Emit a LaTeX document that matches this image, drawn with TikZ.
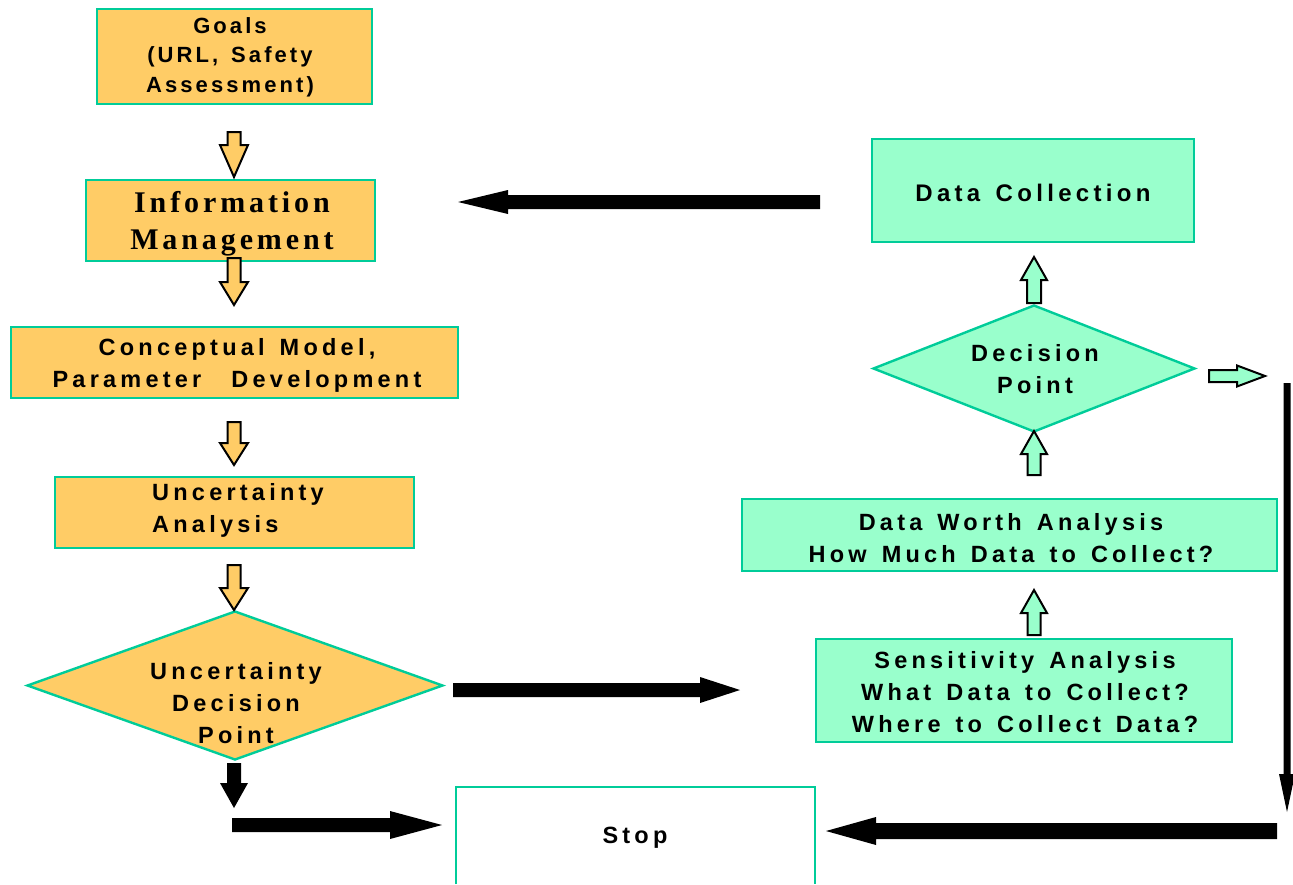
\documentclass[tikz,border=0pt]{standalone}
\usepackage{fontspec}
\usetikzlibrary{calc,shapes.geometric}
\newfontfamily\lab{Liberation Sans}[LetterSpace=18,WordSpace=1.4]
\newfontfamily\labg{Liberation Sans}[LetterSpace=14,WordSpace=1.4]
\newfontfamily\labserif{Liberation Serif}[LetterSpace=13]
\definecolor{edgec}{HTML}{00CC99}
\definecolor{orangef}{HTML}{FFCC66}
\definecolor{greenf}{HTML}{99FFCC}
% #1 start, #2 tip, #3 half shaft, #4 half head, #5 head length, #6 style
\newcommand\blockarrow[6]{%
  \path ($(#2)!#5!(#1)$) coordinate (ba-b);
  \draw[#6] ($(#1)!#3!90:(#2)$) -- ($(ba-b)!#3!-90:(#1)$) -- ($(ba-b)!#4!-90:(#1)$)
    -- (#2) -- ($(ba-b)!#4!90:(#1)$) -- ($(ba-b)!#3!90:(#1)$) -- ($(#1)!#3!-90:(#2)$) -- cycle;}
\tikzset{
  box/.style={draw=edgec, line width=2.4pt, rectangle, inner sep=0pt, align=center,
    font=\lab\bfseries\fontsize{23.5}{31.5}\selectfont},
  obox/.style={box, fill=orangef},
  gbox/.style={box, fill=greenf},
  txt/.style={inner sep=0pt, align=center, font=\lab\bfseries\fontsize{23.5}{32}\selectfont},
  oarrow/.style={fill=orangef, draw=black, line width=2pt, line join=miter},
  garrow/.style={fill=greenf, draw=black, line width=2pt, line join=miter},
  barrow/.style={fill=black, draw=none}
}
\begin{document}
\begin{tikzpicture}[x=1pt,y=-1pt]
\useasboundingbox (0,0) rectangle (1293,884);
% left column
\node[obox, minimum width=275pt, minimum height=95pt] (goals) at (234.5,56.5) {};
\node[txt, font=\labg\bfseries\fontsize{22}{29.5}\selectfont] (goalstext) at (230,57) {Goals\\(URL, Safety\\Assessment)};
\node[obox, minimum width=289pt, minimum height=81pt] (info) at (230.5,220.5) {};
\node[txt, font=\labserif\bfseries\fontsize{30}{37}\selectfont] (infotext) at (232,224) {Information\\Management};
\node[obox, minimum width=447pt, minimum height=71pt] (concept) at (234.5,362.5) {};
\node[txt] (concepttext) at (237,365) {Conceptual Model,\\Parameter\ \ Development};
\node[obox, minimum width=359pt, minimum height=71pt] (unc) at (234.5,512.5) {};
\node[txt, align=left] (unctext) at (238,510) {Uncertainty\\Analysis};
\node[draw=edgec, line width=2.4pt, fill=orangef, diamond, inner sep=0pt, minimum width=416pt, minimum height=149pt] (udiam) at (235,685.5) {};
\node[txt] (udtext) at (236,703) {Uncertainty\\Decision\\Point};
% stop
\node[fill=white, inner sep=0pt, minimum width=359pt, minimum height=97pt] (stop) at (635.5,835.5) {};
\draw[edgec, line width=2.4pt] (stop.south west) -- (stop.north west) -- (stop.north east) -- (stop.south east);
\node[txt] (stoptext) at (635,838) {Stop};
% right column
\node[gbox, minimum width=322pt, minimum height=103pt] (dc) at (1033,190.5) {};
\node[txt, font=\lab\bfseries\fontsize{24}{31}\selectfont] (dctext) at (1033,193) {Data Collection};
\node[draw=edgec, line width=2.4pt, fill=greenf, diamond, inner sep=0pt, minimum width=322pt, minimum height=127pt] (ddiam) at (1034,368.5) {};
\node[txt] (ddtext) at (1035,369) {Decision\\Point};
\node[gbox, minimum width=535pt, minimum height=72pt] (dw) at (1009.5,535) {};
\node[txt] (dwtext) at (1011,538) {Data Worth Analysis\\How Much Data to Collect?};
\node[gbox, minimum width=416pt, minimum height=103pt] (sens) at (1024,690.5) {};
\node[txt] (senstext) at (1025,692) {Sensitivity Analysis\\What Data to Collect?\\Where to Collect Data?};
% small orange arrows
\coordinate (o1s) at (234,132); \coordinate (o1t) at (234,177);
\coordinate (o2s) at (234,258); \coordinate (o2t) at (234,305);
\coordinate (o3s) at (234,422); \coordinate (o3t) at (234,465);
\coordinate (o4s) at (234,565); \coordinate (o4t) at (234,610);
\blockarrow{o1s}{o1t}{6.5pt}{14pt}{32pt}{oarrow}
\blockarrow{o2s}{o2t}{6.5pt}{14pt}{23pt}{oarrow}
\blockarrow{o3s}{o3t}{6.5pt}{14pt}{22pt}{oarrow}
\blockarrow{o4s}{o4t}{6.5pt}{14pt}{22pt}{oarrow}
% small green arrows
\coordinate (g1s) at (1034,635); \coordinate (g1t) at (1034,590);
\coordinate (g2s) at (1034,475); \coordinate (g2t) at (1034,431);
\coordinate (g3s) at (1034,303); \coordinate (g3t) at (1034,257);
\coordinate (g4s) at (1209,376); \coordinate (g4t) at (1265,376);
\blockarrow{g1s}{g1t}{6.5pt}{13pt}{23pt}{garrow}
\blockarrow{g2s}{g2t}{6.5pt}{13pt}{23pt}{garrow}
\blockarrow{g3s}{g3t}{7pt}{13pt}{23pt}{garrow}
\blockarrow{g4s}{g4t}{6pt}{10.5pt}{28pt}{garrow}
% black arrows
\coordinate (b1s) at (820,202); \coordinate (b1t) at (458,202);
\coordinate (b2s) at (453,690); \coordinate (b2t) at (740,690);
\coordinate (b3s) at (234,763); \coordinate (b3t) at (234,808);
\coordinate (b4s) at (232,825); \coordinate (b4t) at (442,825);
\coordinate (b5s) at (1287,383); \coordinate (b5t) at (1287,812);
\coordinate (b6s) at (1277,831); \coordinate (b6t) at (826,831);
\blockarrow{b1s}{b1t}{7pt}{12pt}{50pt}{barrow}
\blockarrow{b2s}{b2t}{7pt}{13pt}{40pt}{barrow}
\blockarrow{b3s}{b3t}{7pt}{14pt}{25pt}{barrow}
\blockarrow{b4s}{b4t}{7pt}{14pt}{52pt}{barrow}
\blockarrow{b5s}{b5t}{3.5pt}{8pt}{38pt}{barrow}
\blockarrow{b6s}{b6t}{8pt}{14pt}{50pt}{barrow}
\end{tikzpicture}
\end{document}
